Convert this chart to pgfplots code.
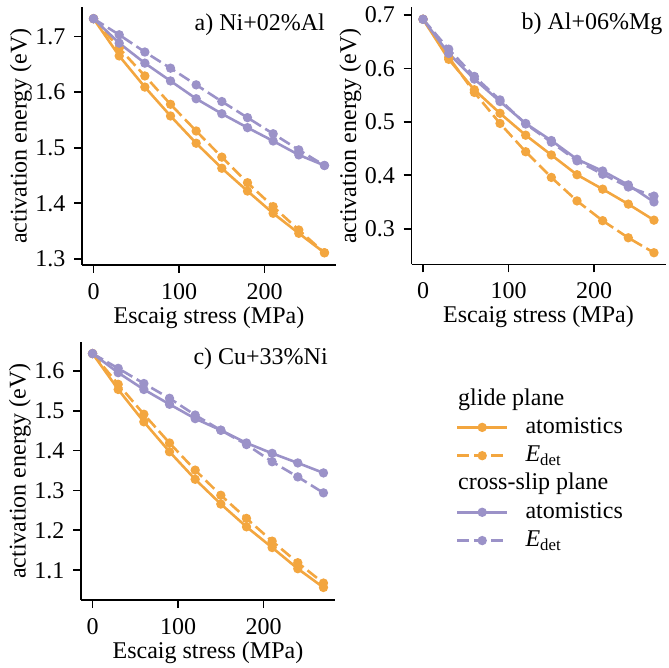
\documentclass[border=0pt]{standalone}
\usepackage{fontspec}
\setmainfont{Liberation Serif}
\usepackage{pgfplots}
\usepackage{pgfplotstable}
\pgfplotsset{compat=1.18}
\definecolor{cor}{RGB}{243,166,63}
\definecolor{cpu}{RGB}{155,146,200}

\pgfplotstableread{
x os od ps pd
0 1.732 1.732 1.732 1.732
30 1.665 1.679 1.688 1.703
60 1.609 1.629 1.652 1.672
90 1.557 1.578 1.620 1.643
120 1.508 1.530 1.588 1.613
150 1.463 1.483 1.561 1.583
180 1.422 1.437 1.536 1.554
210 1.382 1.394 1.512 1.525
240 1.346 1.352 1.487 1.496
270 1.311 1.311 1.468 1.468
}\tabA
\pgfplotstableread{
x os od ps pd
0 0.692 0.692 0.692 0.692
30 0.617 0.621 0.628 0.636
60 0.560 0.555 0.580 0.585
90 0.516 0.497 0.538 0.541
120 0.475 0.444 0.497 0.496
150 0.438 0.396 0.465 0.462
180 0.401 0.352 0.430 0.427
210 0.374 0.315 0.408 0.402
240 0.346 0.283 0.382 0.378
270 0.316 0.255 0.350 0.361
}\tabB
\pgfplotstableread{
x os od ps pd
0 1.643 1.643 1.643 1.643
30 1.553 1.566 1.595 1.606
60 1.472 1.491 1.553 1.568
90 1.397 1.419 1.516 1.531
120 1.328 1.351 1.480 1.489
150 1.266 1.288 1.451 1.451
180 1.209 1.230 1.419 1.415
210 1.157 1.173 1.393 1.372
240 1.104 1.119 1.369 1.334
270 1.057 1.068 1.344 1.294
}\tabC

\newcommand{\bigf}{\fontsize{24}{28}\selectfont}
\pgfplotsset{
 myax/.style={
  scale only axis, width=254pt, height=258pt,
  axis x line*=bottom, axis y line*=left,
  axis line style={line width=1.8pt,-},
  tick style={line width=1.8pt,black},
  tick align=outside, major tick length=8pt,
  xmin=-13.5, xmax=283.5, xtick={0,100,200},
  tick label style={font=\bigf},
  xticklabel style={yshift=-7pt},
  yticklabel style={xshift=-5pt},
  label style={font=\bigf},
  every axis y label/.style={at={(rel axis cs:0,0.5)}, anchor=center, rotate=90, yshift=61pt, font=\bigf},
  /pgf/number format/assume math mode=true,
  xlabel={Escaig stress (MPa)}, ylabel={activation energy (eV)},
  clip=false,
 },
 ps/.style={line width=2.6pt, mark=*, mark size=3.3pt, mark options={solid}},
 das/.style={dash pattern=on 12pt off 5pt},
}

\begin{document}
\begin{tikzpicture}
\useasboundingbox (0pt,0pt) rectangle (669pt,667pt);
% panel a
\begin{axis}[myax, at={(82pt,402pt)}, anchor=south west,
  ymin=1.289, ymax=1.753, ytick={1.3,1.4,1.5,1.6,1.7}]
\addplot[cor, ps] table[x=x,y=os]{\tabA};
\addplot[cor, ps, das] table[x=x,y=od]{\tabA};
\addplot[cpu, ps] table[x=x,y=ps]{\tabA};
\addplot[cpu, ps, das] table[x=x,y=pd]{\tabA};
\node[anchor=base east, inner sep=0pt, font=\bigf] at (rel axis cs:0.957,0.908) {a) Ni+02\%Al};
\end{axis}
% panel b
\begin{axis}[myax, at={(411.5pt,402.5pt)}, anchor=south west, height=257pt,
  ymin=0.233, ymax=0.714, ytick={0.3,0.4,0.5,0.6,0.7}]
\addplot[cor, ps] table[x=x,y=os]{\tabB};
\addplot[cor, ps, das] table[x=x,y=od]{\tabB};
\addplot[cpu, ps] table[x=x,y=ps]{\tabB};
\addplot[cpu, ps, das] table[x=x,y=pd]{\tabB};
\node[anchor=base east, inner sep=0pt, font=\bigf] at (rel axis cs:0.989,0.915) {b) Al+06\%Mg};
\end{axis}
% panel c
\begin{axis}[myax, at={(81pt,67pt)}, anchor=south west,
  ymin=1.0256, ymax=1.672, ytick={1.1,1.2,1.3,1.4,1.5,1.6},
  legend style={at={(1.476,0.833)}, anchor=north west, draw=none, fill=none,
    inner sep=0pt, outer sep=0pt, font=\bigf, cells={anchor=west},
    column sep=14pt, row sep=0.3pt,
    nodes={text height=17pt, text depth=5pt, inner sep=3pt}}]
\addlegendimage{legend image code/.code={\node[overlay,anchor=west,inner sep=1pt,font=\bigf] at (0pt,0pt) {glide plane};}}
\addlegendentry{}
\addlegendimage{cor, ps, legend image code/.code={\draw[mark repeat=2,mark phase=2] plot coordinates {(0pt,0pt) (25pt,0pt) (50pt,0pt)};}}
\addlegendentry{atomistics}
\addlegendimage{cor, ps, das, legend image code/.code={\draw[mark repeat=2,mark phase=2] plot coordinates {(0pt,0pt) (25pt,0pt) (50pt,0pt)};}}
\addlegendentry{\textit{E}\textsubscript{det}}
\addlegendimage{legend image code/.code={\node[overlay,anchor=west,inner sep=1pt,font=\bigf] at (0pt,0pt) {cross-slip plane};}}
\addlegendentry{}
\addlegendimage{cpu, ps, legend image code/.code={\draw[mark repeat=2,mark phase=2] plot coordinates {(0pt,0pt) (25pt,0pt) (50pt,0pt)};}}
\addlegendentry{atomistics}
\addlegendimage{cpu, ps, das, legend image code/.code={\draw[mark repeat=2,mark phase=2] plot coordinates {(0pt,0pt) (25pt,0pt) (50pt,0pt)};}}
\addlegendentry{\textit{E}\textsubscript{det}}
\addplot[cor, ps, forget plot] table[x=x,y=os]{\tabC};
\addplot[cor, ps, das, forget plot] table[x=x,y=od]{\tabC};
\addplot[cpu, ps, forget plot] table[x=x,y=ps]{\tabC};
\addplot[cpu, ps, das, forget plot] table[x=x,y=pd]{\tabC};
\node[anchor=base east, inner sep=0pt, font=\bigf] at (rel axis cs:0.972,0.911) {c) Cu+33\%Ni};
\end{axis}
\end{tikzpicture}
\end{document}
